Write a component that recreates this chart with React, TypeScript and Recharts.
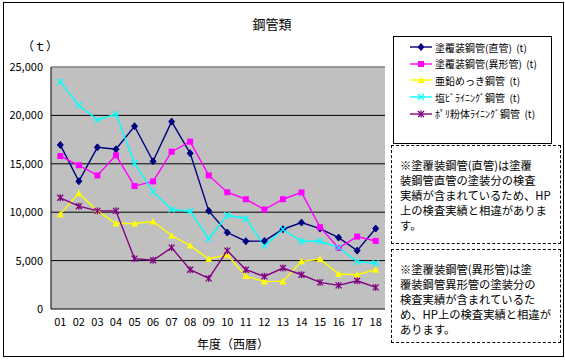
import React from 'react';
import {
    LineChart,
    Line,
    XAxis,
    YAxis,
    CartesianGrid,
    ReferenceLine
} from 'recharts';

const years = ['01', '02', '03', '04', '05', '06', '07', '08', '09', '10', '11', '12', '13', '14', '15', '16', '17', '18'];

const straight = [16950, 13200, 16700, 16500, 18880, 15260, 19360, 16090, 10140, 7900, 7000, 7030, 8240, 8930, 8310, 7380, 6030, 8310];
const fitting = [15800, 14850, 13800, 15880, 12700, 13180, 16250, 17290, 13800, 12060, 11340, 10280, 11340, 12040, 8450, 6300, 7480, 7030];
const zinc = [9800, 11950, 10140, 8830, 8830, 9040, 7590, 6550, 5160, 5600, 3400, 2850, 2850, 4920, 5160, 3610, 3540, 4060];
const pvc = [23470, 21050, 19540, 20130, 15050, 12100, 10280, 10100, 7280, 9690, 9350, 6550, 8210, 7000, 7000, 6340, 4890, 4720];
const poly = [11490, 10620, 10140, 10140, 5200, 5030, 6340, 4060, 3160, 6030, 4060, 3370, 4230, 3540, 2750, 2440, 2920, 2230];

const yTicks = [0, 5000, 10000, 15000, 20000, 25000];
const boundaryTicks = [1, 2, 3, 4, 5, 6, 7, 8, 9, 10, 11, 12, 13, 14, 15, 16, 17];

const seriesInfo = [
    { key: 'straight', name: '塗覆装鋼管(直管)  (t)', color: '#000080', shape: 'diamond' },
    { key: 'fitting', name: '塗覆装鋼管(異形管)  (t)', color: '#FF00FF', shape: 'square' },
    { key: 'zinc', name: '亜鉛めっき鋼管  (t)', color: '#FFFF00', shape: 'triangle' },
    { key: 'pvc', name: '塩ﾋﾞﾗｲﾆﾝｸﾞ鋼管  (t)', color: '#00FFFF', shape: 'cross' },
    { key: 'poly', name: 'ﾎﾟﾘ粉体ﾗｲﾆﾝｸﾞ鋼管  (t)', color: '#800080', shape: 'star' }
];

const data = years.map((y, i) => ({
    year: y,
    straight: straight[i],
    fitting: fitting[i],
    zinc: zinc[i],
    pvc: pvc[i],
    poly: poly[i]
}));

const FONT = '"Noto Sans CJK JP", "Noto Sans", sans-serif';

function Marker({ shape, color, cx, cy }: any) {
    if (cx == null || cy == null) return null;
    if (shape === 'diamond') {
        return <polygon points={`${cx},${cy - 3.5} ${cx + 3},${cy} ${cx},${cy + 3.5} ${cx - 3},${cy}`} fill={color} stroke={color} />;
    }
    if (shape === 'square') {
        return <rect x={cx - 3} y={cy - 3} width={6} height={6} fill={color} />;
    }
    if (shape === 'triangle') {
        return <polygon points={`${cx},${cy - 3.5} ${cx + 3.5},${cy + 3} ${cx - 3.5},${cy + 3}`} fill={color} />;
    }
    if (shape === 'cross') {
        return (
            <g stroke={color} strokeWidth={1.3}>
                <line x1={cx - 3} y1={cy - 3} x2={cx + 3} y2={cy + 3} />
                <line x1={cx - 3} y1={cy + 3} x2={cx + 3} y2={cy - 3} />
            </g>
        );
    }
    return (
        <g stroke={color} strokeWidth={1.3}>
            <line x1={cx - 3} y1={cy - 3} x2={cx + 3} y2={cy + 3} />
            <line x1={cx - 3} y1={cy + 3} x2={cx + 3} y2={cy - 3} />
            <line x1={cx} y1={cy - 3.5} x2={cx} y2={cy + 3.5} />
        </g>
    );
}

const note1 = ['※塗覆装鋼管(直管)は塗覆', '装鋼管直管の塗装分の検査', '実績が含まれているため、HP', '上の検査実績と相違がありま', 'す。'];
const note2 = ['※塗覆装鋼管(異形管)は塗', '覆装鋼管異形管の塗装分の', '検査実績が含まれているた', 'め、HP上の検査実績と相違が', 'あります。'];

function NoteBox({ top, height, lines }: { top: number; height: number; lines: string[] }) {
    return (
        <div style={{
            position: 'absolute', left: 391, top, width: 170, height, boxSizing: 'border-box',
            border: '1px dashed #000', padding: '12px 0 0 8px', fontFamily: FONT, fontSize: 11.3,
            lineHeight: '15px', color: '#000'
        }}>
            {lines.map((l, i) => <div key={i} style={{ whiteSpace: 'nowrap' }}>{l}</div>)}
        </div>
    );
}

export default function App() {
    return (
        <div style={{ position: 'absolute', left: 0, top: 0, width: 565, height: 360, background: '#fff', overflow: 'hidden' }}>
            <div style={{ position: 'absolute', left: 3, top: 2, width: 561, height: 355, boxSizing: 'border-box', border: '1px solid #000' }} />
            <div style={{ position: 'absolute', left: 0, top: 0 }}>
                <LineChart width={565} height={360} data={data} margin={{ top: 67, right: 180, left: 6, bottom: 21 }}>
                    <CartesianGrid
                        fill="#C0C0C0"
                        vertical={false}
                        stroke="#000"
                        strokeWidth={1}
                        horizontalValues={[5000, 10000, 15000, 20000]}
                    />
                    <ReferenceLine y={25000} stroke="#808080" strokeWidth={1.5} />
                    <ReferenceLine xAxisId="tk" x={18} stroke="#808080" strokeWidth={1.5} />
                    <XAxis
                        xAxisId="tk"
                        type="number"
                        domain={[0, 18]}
                        ticks={boundaryTicks}
                        height={1}
                        mirror
                        tick={false}
                        axisLine={false}
                        tickSize={4}
                        tickLine={{ stroke: '#000' }}
                    />
                    <XAxis
                        dataKey="year"
                        height={30}
                        padding={{ left: 9.3, right: 9.3 }}
                        axisLine={{ stroke: '#000' }}
                        tickLine={false}
                        tickSize={6}
                        tickMargin={3}
                        interval={0}
                        tick={{ fill: '#000', fontSize: 11, fontFamily: FONT }}
                    />
                    <YAxis
                        width={45}
                        domain={[0, 25000]}
                        ticks={yTicks}
                        axisLine={{ stroke: '#000' }}
                        tickLine={false}
                        tickFormatter={(v: number) => v.toLocaleString('en-US')}
                        tick={{ fill: '#000', fontSize: 11, fontFamily: FONT }}
                    />
                    {seriesInfo.map((s) => (
                        <Line
                            key={s.key}
                            dataKey={s.key}
                            name={s.name}
                            stroke={s.color}
                            strokeWidth={1.4}
                            dot={(p: any) => <Marker key={`${s.key}-${p.index}`} shape={s.shape} color={s.color} cx={p.cx} cy={p.cy} />}
                            activeDot={false}
                            isAnimationActive={false}
                        />
                    ))}
                </LineChart>
            </div>
            <div style={{ position: 'absolute', left: 242, top: 14, width: 60, textAlign: 'center', fontFamily: FONT, fontSize: 13, color: '#000' }}>鋼管類</div>
            <div style={{ position: 'absolute', left: 22, top: 37, fontFamily: FONT, fontSize: 12, color: '#000' }}>（ｔ）</div>
            <div style={{ position: 'absolute', left: 183, top: 335, width: 100, textAlign: 'center', fontFamily: FONT, fontSize: 12, color: '#000' }}>年度（西暦）</div>
            <div style={{
                position: 'absolute', left: 393, top: 36, width: 159, height: 108, boxSizing: 'border-box',
                border: '1px solid #000', padding: '2px 0 0 16px'
            }}>
                {seriesInfo.map((s) => (
                    <div key={s.key} style={{ display: 'flex', alignItems: 'center', height: 16.6, fontFamily: FONT, fontSize: 10, color: '#000', whiteSpace: 'pre' }}>
                        <svg width={22} height={10} style={{ marginRight: 3 }}>
                            <line x1={0} y1={5} x2={22} y2={5} stroke={s.color} strokeWidth={1.4} />
                            <Marker shape={s.shape} color={s.color} cx={11} cy={5} />
                        </svg>
                        {s.name}
                    </div>
                ))}
            </div>
            <NoteBox top={145} height={99} lines={note1} />
            <NoteBox top={249} height={94} lines={note2} />
        </div>
    );
}
